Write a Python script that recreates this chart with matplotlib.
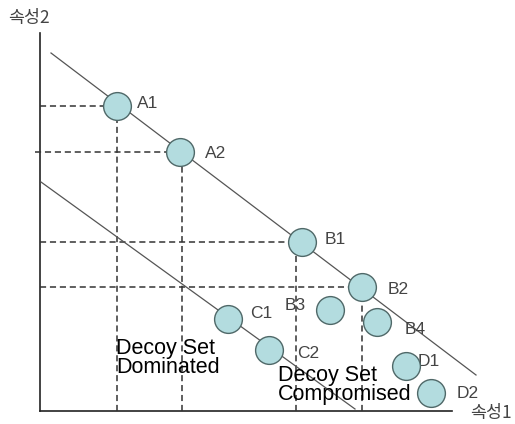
import matplotlib
matplotlib.use('Agg')
import matplotlib.pyplot as plt

# 점 데이터 (속성1, 속성2)
names = ['A1', 'A2', 'B1', 'B2', 'B3', 'B4', 'C1', 'C2', 'D1', 'D2']
attr1 = [77, 140, 262, 322, 290, 337, 188, 229, 366, 391]
attr2 = [305, 259, 169, 124, 101, 89, 92, 61, 45, 18]
# 라벨 위치
label_x = [97, 165, 285, 348, 245, 365, 210, 257, 378, 417]
label_y = [308, 257, 172, 122, 106, 82, 97, 57, 49, 17]

# 두 개의 무차별 곡선(직선)
upper_x = [11, 436]
upper_y = [358, 36]
lower_x = [1, 315]
lower_y = [229, 2]

# 점선 기준
h_dash_y = [305, 259, 169, 124]
h_dash_start = [0, -5, 0, 0]
h_dash_end = [64, 126, 248, 308]
v_dash_x = [77, 142, 256, 322]
v_dash_top = [291, 245, 155, 110]

fig = plt.figure(figsize=(5.15, 4.24), dpi=100)
ax = fig.add_axes([0, 0, 1, 1])
ax.set_xlim(-40, 475)
ax.set_ylim(-13, 411)

# 축
ax.plot([0, 0], [0, 378], color='#222222', lw=1.2)
ax.plot([0, 412], [0, 0], color='#222222', lw=1.2)

for y, x0, x1 in zip(h_dash_y, h_dash_start, h_dash_end):
    ax.plot([x0, x1], [y, y], color='#333333', lw=1.1, ls=(0, (4, 2.5)))
for x, top in zip(v_dash_x, v_dash_top):
    ax.plot([x, x], [0, top], color='#333333', lw=1.1, ls=(0, (4, 2.5)))

ax.plot(upper_x, upper_y, color='#555555', lw=0.9)
ax.plot(lower_x, lower_y, color='#555555', lw=0.9)

ax.plot(attr1, attr2, 'o', ms=20, mfc='#b3dcdf', mec='#4f6868', mew=1.0, ls='none', zorder=5)

for n, x, y in zip(names, label_x, label_y):
    ax.text(x, y, n, fontsize=12.5, color='#444444', va='center', ha='left',
            family=['Liberation Sans', 'DejaVu Sans'])

ax.text(76, 73, 'Decoy Set\nDominated', fontsize=15.5, color='black', va='top', ha='left',
        family=['Liberation Sans', 'DejaVu Sans'], linespacing=0.85, zorder=6)
ax.text(238, 46, 'Decoy Set\nCompromised', fontsize=15.5, color='black', va='top', ha='left',
        family=['Liberation Sans', 'DejaVu Sans'], linespacing=0.85, zorder=6)

ax.text(-32, 393, '속성2', fontsize=12.5, color='#444444', va='center', ha='left',
        family=['Noto Sans CJK KR', 'DejaVu Sans'])
ax.text(430, -2, '속성1', fontsize=12.5, color='#444444', va='center', ha='left',
        family=['Noto Sans CJK KR', 'DejaVu Sans'])

ax.axis('off')
fig.savefig('out.png', dpi=100)
